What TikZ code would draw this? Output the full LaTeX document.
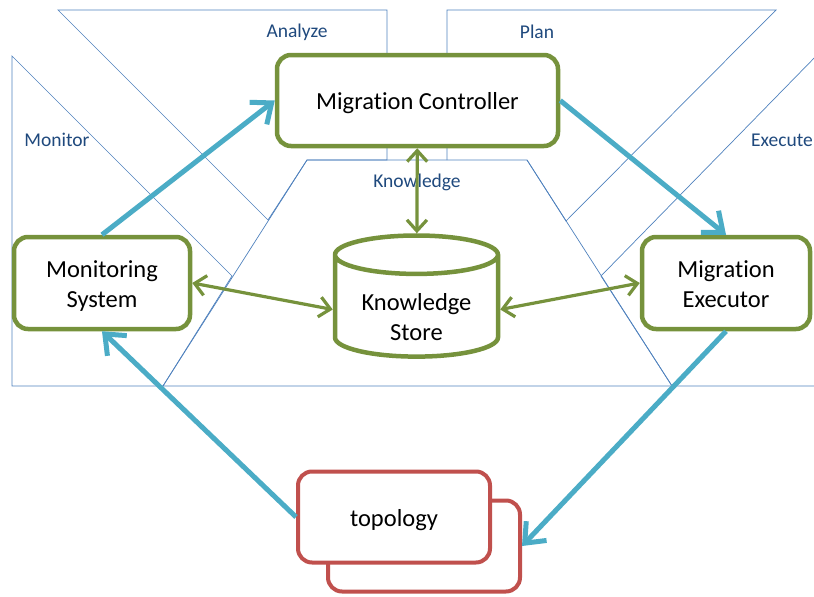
\documentclass[tikz,border=0pt]{standalone}
\usepackage{fontspec}
\setmainfont{Carlito}[Ligatures=NoCommon]
\usetikzlibrary{shapes.geometric, arrows.meta, positioning}
\definecolor{loopblue}{RGB}{75, 172, 198}
\definecolor{boxgreen}{RGB}{118, 146, 60}
\definecolor{topored}{RGB}{192, 80, 77}
\definecolor{phaseline}{RGB}{79, 129, 189}
\definecolor{phasetext}{RGB}{31, 73, 125}
\newcommand{\boxlabel}[2]{\raisebox{#1}[\height][\depth]{\begin{tabular}{@{}c@{}}#2\end{tabular}}}

\begin{document}
\begin{tikzpicture}[
        x=1pt, y=-1pt,
        phase/.style={draw=phaseline, line width=0.7pt},
        phaselabel/.style={text=phasetext, font=\fontsize{19.5}{23}\selectfont},
        component/.style={rectangle, draw=boxgreen, fill=white, line width=4.5pt, rounded corners=14pt, font=\fontsize{24.5}{30}\selectfont},
        store/.style={cylinder, shape border rotate=90, aspect=0.33, draw=boxgreen, fill=white, line width=4.5pt, minimum width=163pt, minimum height=101pt, font=\fontsize{24.5}{30}\selectfont},
        topobox/.style={rectangle, draw=topored, fill=white, line width=4pt, rounded corners=14pt, minimum width=192pt, minimum height=91pt, font=\fontsize{24.5}{30}\selectfont},
        loop/.style={-{Straight Barb[length=17pt, width=28pt]}, line width=5pt, draw=loopblue},
        access/.style={{Straight Barb[length=11pt, width=20pt]}-{Straight Barb[length=11pt, width=20pt]}, line width=3.2pt, draw=boxgreen}
    ]
        \useasboundingbox (0,0) rectangle (814,597);

        % Phase regions
        \draw [phase] (12,56) -- (232,276) -- (163,386) -- (12,386) -- cycle;
        \draw [phase] (58,10) -- (387,10) -- (387,160) -- (307,160) -- (268,220) -- cycle;
        \draw [phase] (447,160) -- (447,10) -- (776,10) -- (566,221) -- (527,160);
        \draw [phase] (822,50) -- (601,276) -- (672,386) -- (822,386);
        \draw [phase] (307,160) -- (527,160) -- (672,386) -- (163,386) -- cycle;

        \node (monitor) [phaselabel] at (57,140) {Monitor};
        \node (analyze) [phaselabel] at (297,32) {Analyze};
        \node (plan) [phaselabel] at (537,32) {Plan};
        \node (execute) [phaselabel, anchor=east, inner xsep=0pt] at (813,140) {Execute};
        \node (knowledge) [phaselabel] at (417,182) {Knowledge};

        % Row 1
        \node (controller) [component, minimum width=281pt, minimum height=91pt] at (417.5,100.5) {\boxlabel{-3pt}{Migration Controller}};

        % Row 2
        \node (monsys) [component, minimum width=176pt, minimum height=92pt] at (102,283) {\boxlabel{-3pt}{Monitoring\\System}};
        \node (store) [store] at (416.5,309.5) {\boxlabel{-10pt}{Knowledge\\Store}};
        \node (executor) [component, minimum width=168pt, minimum height=92pt] at (726,283) {\boxlabel{-3pt}{Migration\\Executor}};

        % Row 3
        \node (topoback) [topobox] at (424,546) {};
        \node (topology) [topobox] at ([shift={(-30,-29)}]topoback) {\boxlabel{-3pt}{topology}};

        % Connecting Arrows
        \draw [loop] (monsys.north) -- (controller.west);
        \draw [loop] (controller.east) -- (executor.north);
        \draw [loop] (executor.south) -- (topoback.east);
        \draw [loop] (topology.west) -- (monsys.south);
        \draw [access] (controller) -- (store);
        \draw [access] (monsys.east) -- (store.west);
        \draw [access] (store.east) -- (executor.west);
    \end{tikzpicture}
\end{document}
